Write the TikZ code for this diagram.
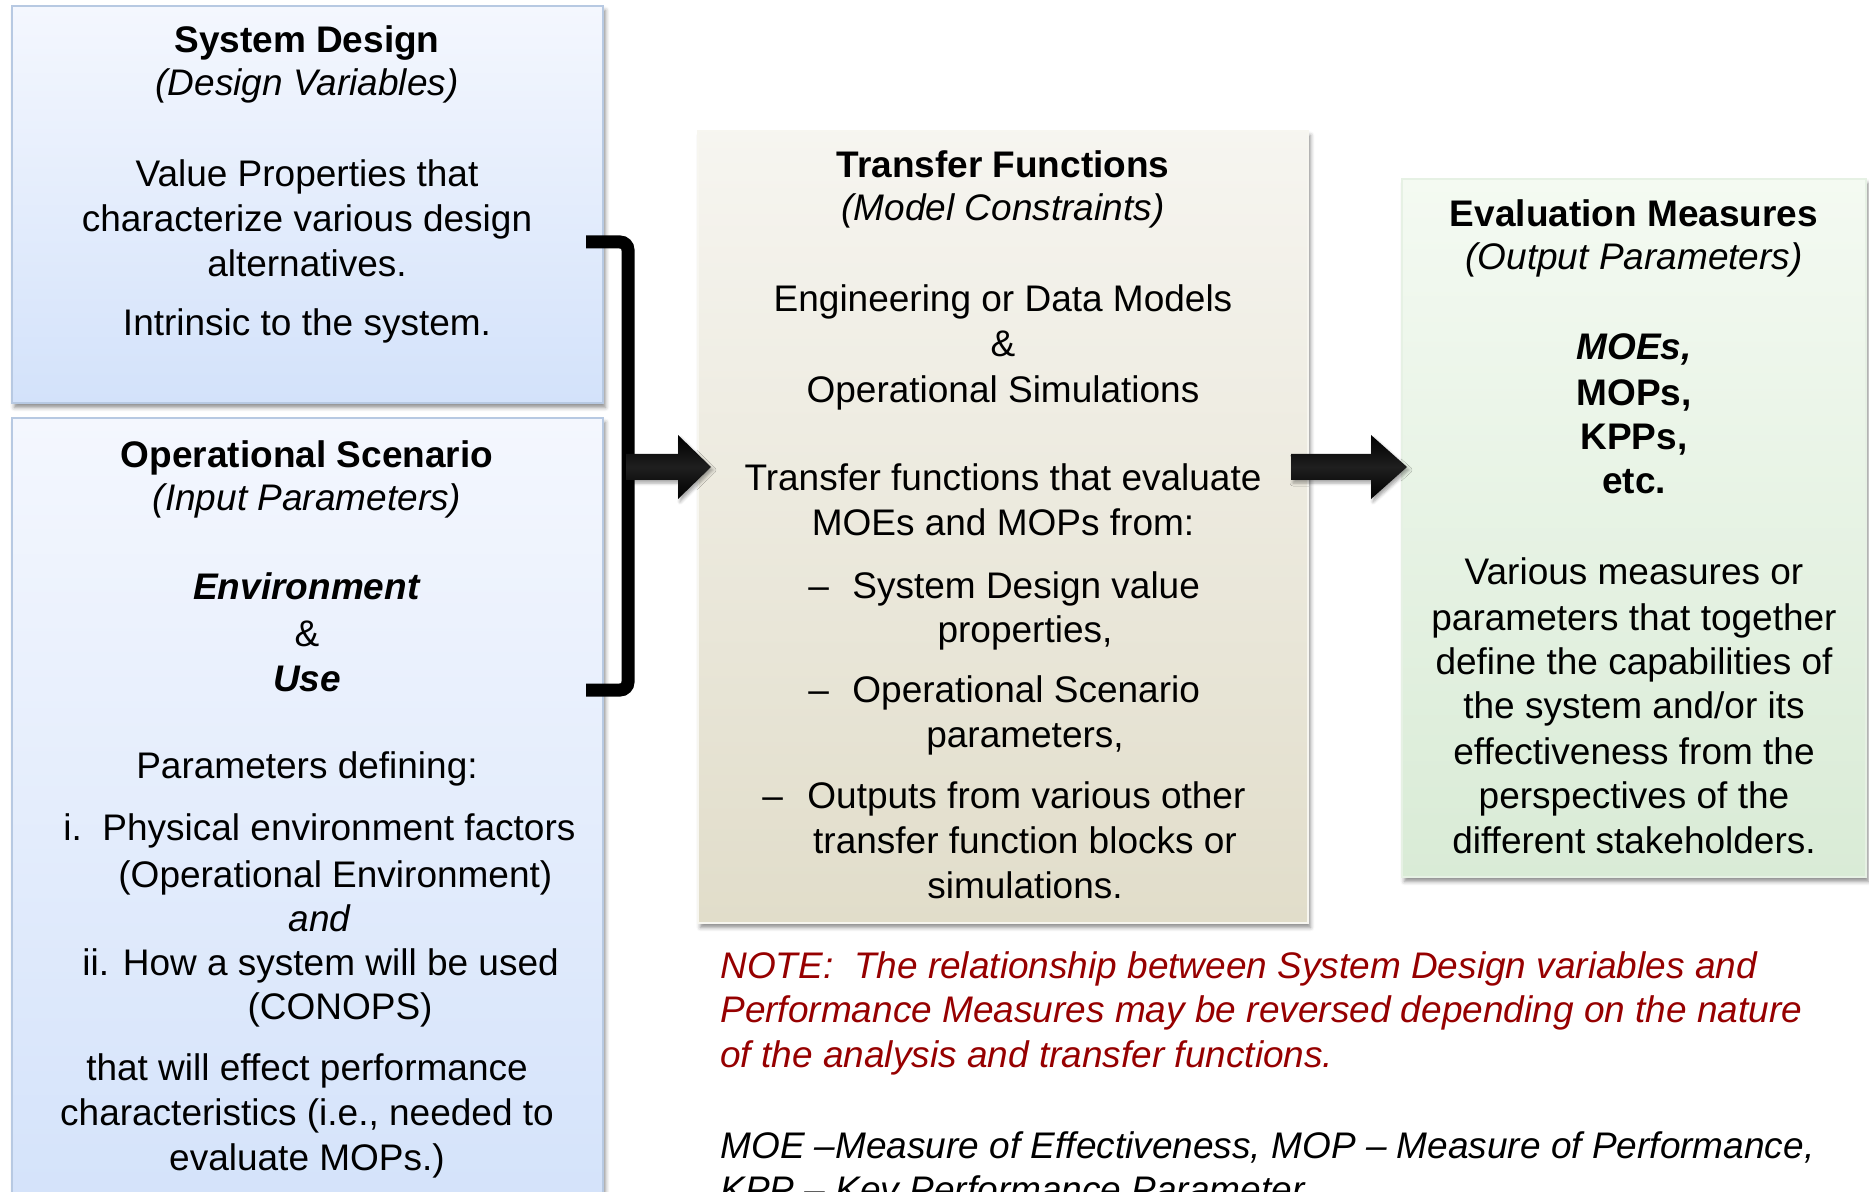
\documentclass[tikz,border=0pt]{standalone}
\usepackage{fontspec}
\setmainfont{Liberation Sans}
\usetikzlibrary{shadows.blur}

\definecolor{bluetop}{HTML}{F4F7FE}
\definecolor{bluebot}{HTML}{D3E2FA}
\definecolor{blueedge}{HTML}{B7C9E2}
\definecolor{beigetop}{HTML}{F6F5F0}
\definecolor{beigebot}{HTML}{E1DDCA}
\definecolor{beigeedge}{HTML}{F7F6F0}
\definecolor{greentop}{HTML}{F4FAF2}
\definecolor{greenbot}{HTML}{D9EBD6}
\definecolor{greenedge}{HTML}{E6F1E4}
\definecolor{notered}{RGB}{150,0,0}

\tikzset{
  panel/.style={anchor=north west, inner sep=0pt, outer sep=0pt, line width=0.8pt,
    blur shadow={shadow xshift=1.2pt, shadow yshift=-2.2pt, shadow blur radius=2pt, shadow opacity=45}},
  bluebox/.style={panel, draw=blueedge, top color=bluetop, bottom color=bluebot},
  beigebox/.style={panel, draw=beigeedge, top color=beigetop, bottom color=beigebot},
  greenbox/.style={panel, draw=greenedge, top color=greentop, bottom color=greenbot},
  txt/.style={anchor=base, inner sep=0pt, yshift=-1pt, font=\fontsize{18.5pt}{22pt}\selectfont},
  txtl/.style={txt, anchor=base west},
  note/.style={txtl, text=notered, font=\fontsize{18.5pt}{22pt}\selectfont\itshape},
  blockarrow/.style={top color=black, bottom color=black, middle color=black!88,
    blur shadow={shadow xshift=1pt, shadow yshift=-1.5pt, shadow blur radius=1.5pt, shadow opacity=35}},
  bracket/.style={draw=black, line width=6.5pt, rounded corners=4pt}
}

\begin{document}
\begin{tikzpicture}[x=0.5pt,y=-0.5pt]
\useasboundingbox (0,0) rectangle (1869,1192);
\clip (0,0) rectangle (1869,1192);

% ---- panels ----
\node (sd) [bluebox, minimum width=295.5pt, minimum height=198.5pt] at (12,6) {};
\node (os) [bluebox, minimum width=295.5pt, minimum height=406pt] at (12,418) {};
\node (tf) [beigebox, minimum width=305pt, minimum height=396pt] at (698,131) {};
\node (em) [greenbox, minimum width=232pt, minimum height=349pt] at (1402,179) {};

% ---- System Design ----
\node (sdA) [txt] at (307,51) {\textbf{System Design}};
\node (sdB) [txt] at (307,94) {\textit{(Design Variables)}};
\node (sdC) [txt] at (307,185) {Value Properties that};
\node (sdD) [txt] at (307,230) {characterize various design};
\node (sdE) [txt] at (307,275) {alternatives.};
\node (sdF) [txt] at (307,334) {Intrinsic to the system.};

% ---- Operational Scenario ----
\node (osA) [txt] at (307,465) {\textbf{Operational Scenario}};
\node (osB) [txt] at (307,508) {\textit{(Input Parameters)}};
\node (osC) [txt] at (307,597) {\textbf{\textit{Environment}}};
\node (osD) [txt] at (307,644) {\&};
\node (osE) [txt] at (307,689) {\textbf{\textit{Use}}};
\node (osF) [txt] at (307,776) {Parameters defining:};
\node (osG) [txtl] at (63,838) {i.\ \ Physical environment factors};
\node (osH) [txtl] at (118,885) {(Operational Environment)};
\node (osI) [txt] at (320,929) {\textit{and}};
\node (osJ) [txtl] at (82,973) {ii. How a system will be used};
\node (osK) [txt] at (340,1017) {(CONOPS)};
\node (osL) [txt] at (307,1078) {that will effect performance};
\node (osM) [txt] at (307,1123) {characteristics (i.e., needed to};
\node (osN) [txt] at (307,1168) {evaluate MOPs.)};

% ---- Transfer Functions ----
\node (tfA) [txt] at (1003,176) {\textbf{Transfer Functions}};
\node (tfB) [txt] at (1003,219) {\textit{(Model Constraints)}};
\node (tfC) [txt] at (1003,310) {Engineering or Data Models};
\node (tfD) [txt] at (1003,355) {\&};
\node (tfE) [txt] at (1003,401) {Operational Simulations};
\node (tfF) [txt] at (1003,489) {Transfer functions that evaluate};
\node (tfG) [txt] at (1003,533) {MOEs and MOPs from:};
\node (tfH0) [txtl] at (808,596) {–};
\node (tfH) [txtl] at (852,596) {System Design value};
\node (tfI) [txt] at (1025,640) {properties,};
\node (tfJ0) [txtl] at (808,700) {–};
\node (tfJ) [txtl] at (852,700) {Operational Scenario};
\node (tfK) [txt] at (1025,745) {parameters,};
\node (tfL0) [txtl] at (762,806) {–};
\node (tfL) [txtl] at (807,806) {Outputs from various other};
\node (tfM) [txt] at (1025,851) {transfer function blocks or};
\node (tfN) [txt] at (1025,896) {simulations.};

% ---- Evaluation Measures ----
\node (emA) [txt] at (1634,225) {\textbf{Evaluation Measures}};
\node (emB) [txt] at (1634,268) {\textit{(Output Parameters)}};
\node (emC) [txt] at (1634,358) {\textbf{\textit{MOEs,}}};
\node (emD) [txt] at (1634,404) {\textbf{MOPs,}};
\node (emE) [txt] at (1634,448) {\textbf{KPPs,}};
\node (emF) [txt] at (1634,492) {\textbf{etc.}};
\node (emG) [txt] at (1634,582) {Various measures or};
\node (emH) [txt] at (1634,628) {parameters that together};
\node (emI) [txt] at (1634,672) {define the capabilities of};
\node (emJ) [txt] at (1634,716) {the system and/or its};
\node (emK) [txt] at (1634,762) {effectiveness from the};
\node (emL) [txt] at (1634,806) {perspectives of the};
\node (emM) [txt] at (1634,851) {different stakeholders.};

% ---- notes ----
\node (nA) [note] at (720,976) {NOTE:\ \ The relationship between System Design variables and};
\node (nB) [note] at (720,1020) {Performance Measures may be reversed depending on the nature};
\node (nC) [note] at (720,1065) {of the analysis and transfer functions.};
\node (nD) [txtl, font=\fontsize{18.5pt}{22pt}\selectfont\itshape] at (720,1156) {MOE –Measure of Effectiveness, MOP – Measure of Performance,};
\node (nE) [txtl, font=\fontsize{18.5pt}{22pt}\selectfont\itshape] at (720,1200) {KPP – Key Performance Parameter};

% ---- bracket joining the two input panels ----
\coordinate (bt) at (586,242);
\coordinate (bb) at (586,690);
\coordinate (bm) at (628,467);
\draw[bracket] (bt) -- (628,242) -- (628,690) -- (bb);

% ---- block arrows ----
\coordinate (tip1) at (711,467);
\coordinate (tip2) at (1407,467);
\path[blockarrow] (bm) ++(-2,-13) -- ++(52,0) -- ++(0,-19) -- (tip1)
  -- ++(-33,32) -- ++(0,-19) -- ++(-52,0) -- cycle;
\path[blockarrow] (tip2) ++(-36,-13) -- ++(0,-19) -- (tip2) -- ++(-36,32)
  -- ++(0,-19) -- ++(-80,0) -- ++(0,-26) -- cycle;
\end{tikzpicture}
\end{document}
